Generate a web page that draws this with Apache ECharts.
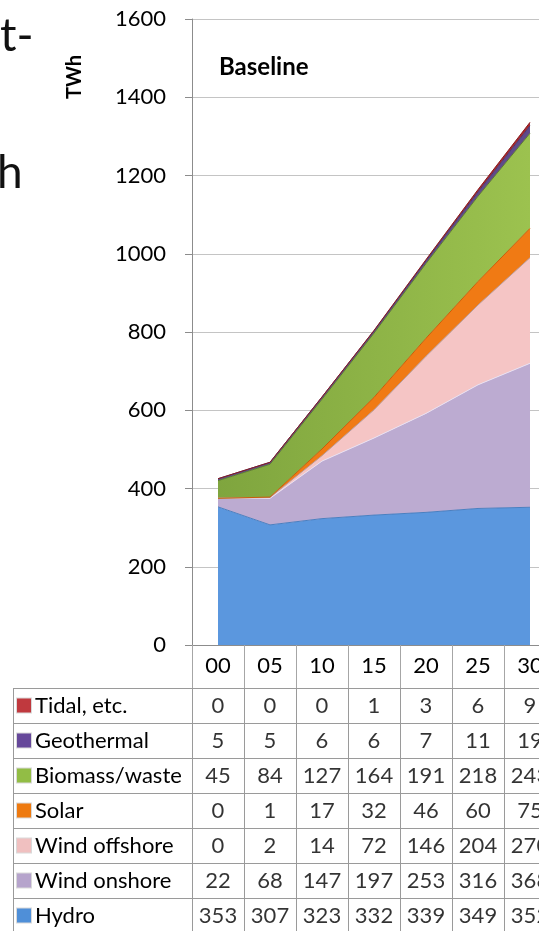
<!DOCTYPE html>
<html><head><meta charset="utf-8">
<script src="https://cdn.jsdelivr.net/npm/echarts@6/dist/echarts.min.js"></script>
<style>html,body{margin:0;padding:0;background:#fff}#c{width:539px;height:931px}</style>
</head><body><div id="c"></div>
<script>
const categories = ['00','05','10','15','20','25','30'];
const hydro        = [353,307,323,332,339,349,352];
const windOnshore  = [22,68,147,197,253,316,368];
const windOffshore = [0,2,14,72,146,204,270];
const solar        = [0,1,17,32,46,60,75];
const biomass      = [45,84,127,164,191,218,243];
const geothermal   = [5,5,6,6,7,11,19];
const tidal        = [0,0,0,1,3,6,9];
const yTicks = [0,200,400,600,800,1000,1200,1400,1600];

const seriesDefs = [
  {name:'Hydro', data:hydro, color:'#5b97de', line:'#4a7fc0', sq:'#4f8fd8'},
  {name:'Wind onshore', data:windOnshore, color:'#bcabd1', line:'#e8e0f2', sq:'#b6a4cc'},
  {name:'Wind offshore', data:windOffshore, color:'#f5c5c5', line:'#b89a9a', sq:'#f0c0c0'},
  {name:'Solar', data:solar, color:'#f07a14', line:'#c85e08', sq:'#ee7a10'},
  {name:'Biomass/waste', data:biomass, color:'#8db04a', line:'#5f7d2c', sq:'#92bd45'},
  {name:'Geothermal', data:geothermal, color:'#5f4a8b', line:'#4a3870', sq:'#66489a'},
  {name:'Tidal, etc.', data:tidal, color:'#a8282c', line:'#8a1d20', sq:'#c0393e'}
];
const rows = seriesDefs.slice().reverse(); // table order, top to bottom

const FONT = 'Lato';
const FS = 22;
const chart = echarts.init(document.getElementById('c'), null, {renderer:'canvas'});

const tableData = [];
rows.forEach((r,i)=>r.data.forEach((v,j)=>tableData.push([j,i,v])));

const rich = {t:{fontFamily:FONT,fontSize:FS,color:'#000',padding:[0,0,0,4]}};
rows.forEach((r,i)=>{rich['s'+i]={width:14,height:14,backgroundColor:r.sq,borderColor:'rgba(0,0,0,0.15)',borderWidth:1};});

const option = {
  animation:false,
  backgroundColor:'#fff',
  title:{text:'Baseline',left:214,top:50,textStyle:{fontFamily:FONT,fontSize:24,fontWeight:'bold',color:'#000'}},
  grid:[
    {left:192,width:364,top:19,bottom:286,outerBoundsMode:'none',containLabel:false},
    {left:192,width:364,top:688,bottom:-2,outerBoundsMode:'none',containLabel:false}
  ],
  xAxis:[
    {gridIndex:0,type:'category',data:categories,boundaryGap:true,
     axisLine:{lineStyle:{color:'#8c8c8c'}},
     axisTick:{show:true,interval:0,length:43,lineStyle:{color:'#a6a6a6'}},
     axisLabel:{fontFamily:FONT,fontSize:FS,color:'#000',margin:10,interval:0}},
    {gridIndex:1,type:'category',data:categories,boundaryGap:true,
     axisLine:{show:false},axisTick:{show:false},axisLabel:{show:false},
     splitLine:{show:true,interval:0,lineStyle:{color:'#9a9a9a'}}}
  ],
  yAxis:[
    {gridIndex:0,type:'value',min:0,max:1600,interval:200,
     axisLine:{show:true,lineStyle:{color:'#8c8c8c'}},
     axisTick:{show:true,length:7,lineStyle:{color:'#8c8c8c'}},
     axisLabel:{fontFamily:FONT,fontSize:FS,color:'#000',margin:26,
       formatter:v=>yTicks.includes(v)?String(v):''},
     splitLine:{show:true,lineStyle:{color:'#c4c4c4'}}},
    {gridIndex:1,type:'category',inverse:true,data:rows.map(r=>r.name),boundaryGap:true,
     axisLine:{show:true,lineStyle:{color:'#9a9a9a'}},
     axisTick:{show:true,interval:0,length:179,lineStyle:{color:'#9a9a9a'}},
     axisLabel:{align:'left',margin:175,interval:0,
       formatter:(v,i)=>'{s'+i+'|}{t|'+v+'}',rich:rich},
     splitLine:{show:true,interval:0,lineStyle:{color:'#9a9a9a'}}}
  ],
  graphic:[
    {type:'line',shape:{x1:13.5,y1:688,x2:13.5,y2:931},style:{stroke:'#9a9a9a',lineWidth:1},silent:true},
    {type:'text',x:75,y:77,rotation:Math.PI/2,style:{text:'TWh',fontFamily:FONT,fontSize:20,fontWeight:'bold',fill:'#000',align:'center',verticalAlign:'middle'}},
    {type:'text',x:0,y:36,style:{text:'t-',fontFamily:FONT,fontSize:46,fill:'#111',align:'left',verticalAlign:'middle'}},
    {type:'text',x:-3,y:173,style:{text:'h',fontFamily:FONT,fontSize:46,fill:'#111',align:'left',verticalAlign:'middle'}}
  ],
  series: seriesDefs.map(s=>({
    name:s.name,type:'line',stack:'total',xAxisIndex:0,yAxisIndex:0,
    data:s.data,symbol:'none',smooth:false,silent:true,
    lineStyle:{width:1,color:s.line},
    areaStyle:{opacity:1,color:s.name==='Biomass/waste'
      ? new echarts.graphic.LinearGradient(0,0,1,0,[{offset:0,color:'#7fa53e'},{offset:1,color:'#9cc24f'}])
      : s.color}
  })).concat([{
    type:'scatter',xAxisIndex:1,yAxisIndex:1,data:tableData,symbolSize:1,silent:true,
    itemStyle:{color:'rgba(0,0,0,0)'},
    label:{show:true,position:'inside',formatter:p=>String(p.value[2]),fontFamily:FONT,fontSize:FS,color:'#000'}
  }])
};
chart.setOption(option);
</script></body></html>
